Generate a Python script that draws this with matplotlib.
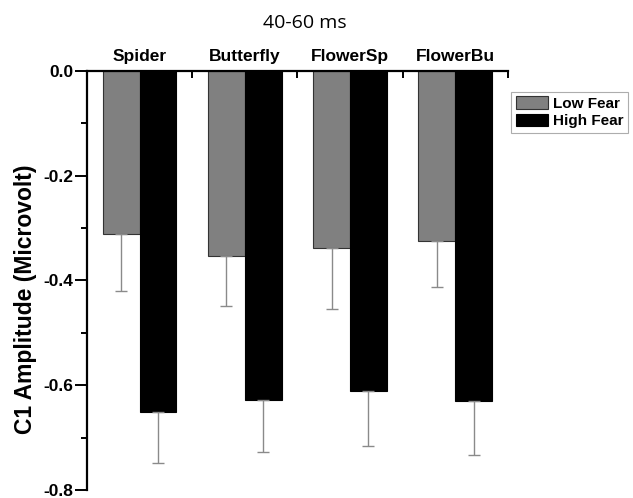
import numpy as np
import matplotlib
matplotlib.use('Agg')
from matplotlib import pyplot as plt
from matplotlib.ticker import MultipleLocator

categories = ['Spider', 'Butterfly', 'FlowerSp', 'FlowerBu']
low_fear = [-0.312, -0.354, -0.338, -0.324]
high_fear = [-0.651, -0.629, -0.611, -0.630]
low_err = [0.108, 0.095, 0.117, 0.089]
high_err = [0.098, 0.099, 0.105, 0.103]

plt.rcParams['font.family'] = ['Liberation Sans', 'DejaVu Sans']

fig = plt.figure(figsize=(6.33, 4.98), dpi=100)
ax = fig.add_axes([0.1374, 0.016, 0.665, 0.8416])

x = np.arange(1, len(categories) + 1)
w = 0.35
ekw = dict(ecolor='#8a8a8a', elinewidth=1, capsize=4, capthick=1)
# error bars only go downwards
ax.bar(x - w / 2, low_fear, w, color='#808080', edgecolor='#333333', linewidth=0.8,
       yerr=[low_err, [0] * 4], error_kw=ekw, label='Low Fear')
ax.bar(x + w / 2, high_fear, w, color='black', edgecolor='black', linewidth=0.8,
       yerr=[high_err, [0] * 4], error_kw=ekw, label='High Fear')

ax.set_xlim(0.5, 4.5)
ax.set_ylim(-0.8, 0.0)

ax.spines['right'].set_visible(False)
ax.spines['bottom'].set_visible(False)
ax.spines['top'].set_linewidth(1.6)
ax.spines['left'].set_linewidth(1.6)

ax.xaxis.tick_top()
ax.set_xticks(x)
ax.set_xticklabels(categories, fontsize=12.5, fontweight='bold')
ax.set_xticks([1.5, 2.5, 3.5, 4.5], minor=True)
ax.tick_params(axis='x', which='major', length=0, pad=5)
ax.tick_params(axis='x', which='minor', direction='in', length=5, width=1.4)

ax.yaxis.set_major_locator(MultipleLocator(0.2))
ax.yaxis.set_minor_locator(MultipleLocator(0.1))
ax.set_yticks([0.0, -0.2, -0.4, -0.6, -0.8])
ax.set_yticklabels(['0.0', '-0.2', '-0.4', '-0.6', '-0.8'], fontsize=12.5, fontweight='bold')
ax.tick_params(axis='y', which='major', direction='out', length=9, width=1.4, pad=1)
ax.tick_params(axis='y', which='minor', direction='out', length=4, width=1.4)

fig.text(26 / 633, 1 - 299 / 498, 'C1 Amplitude (Microvolt)', fontsize=16.5,
         fontweight='bold', rotation=90, ha='center', va='center')
fig.text(305 / 633, 1 - 28 / 498, '40-60 ms', fontsize=14,
         family=['Open Sans', 'DejaVu Sans'], ha='center', va='baseline')

leg = ax.legend(loc='upper left', bbox_to_anchor=(1.008, 0.95),
                prop={'weight': 'bold', 'size': 11}, frameon=True, fancybox=False,
                handlelength=2.1, handleheight=0.85, handletextpad=0.35,
                labelspacing=0.2, borderpad=0.3, borderaxespad=0)
leg.get_frame().set_edgecolor('#999999')
leg.get_frame().set_linewidth(0.8)

fig.savefig('out.png', dpi=100)
